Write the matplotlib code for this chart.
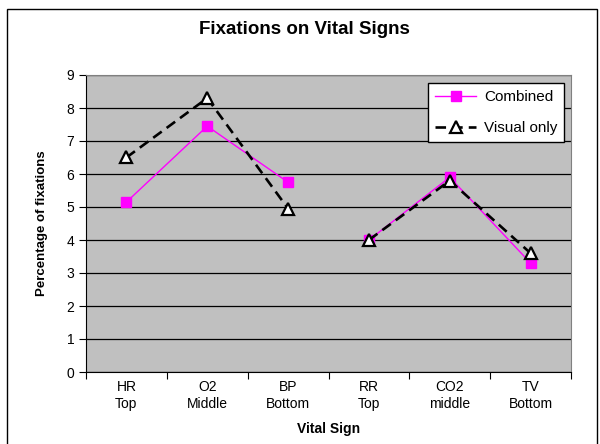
import numpy as np
import matplotlib
matplotlib.use('Agg')
import matplotlib.pyplot as plt
from matplotlib.patches import Rectangle

plt.rcParams['font.family'] = ['Liberation Sans', 'DejaVu Sans']

# ── Data ──
categories = ['HR\nTop', 'O2\nMiddle', 'BP\nBottom', 'RR\nTop', 'CO2\nmiddle', 'TV\nBottom']
combined = [5.15, 7.45, 5.75, 4.0, 5.9, 3.3]
visual_only = [6.5, 8.3, 4.95, 4.0, 5.8, 3.6]
groups = [(0, 3), (3, 6)]   # lines are broken between the two screen groups

fig = plt.figure(figsize=(6.0, 4.44), dpi=100, facecolor='white')
fig.patches.append(Rectangle((7/600, -0.05), 590/600, 1 - 9/444 + 0.05,
                             transform=fig.transFigure, fill=False,
                             edgecolor='black', linewidth=1.0))

ax = fig.add_axes([86/600, 1 - 372/444, 485/600, 297/444])
ax.set_facecolor('#C0C0C0')

x = np.arange(len(categories))
for i, (a, b) in enumerate(groups):
    ax.plot(x[a:b], combined[a:b], color='#FF00FF', linewidth=1.0,
            marker='s', markersize=7, markerfacecolor='#FF00FF',
            markeredgecolor='#FF00FF', zorder=3,
            label='Combined' if i == 0 else None)
for i, (a, b) in enumerate(groups):
    ax.plot(x[a:b], visual_only[a:b], color='black', linewidth=1.9,
            dashes=(4, 2.3), marker='^', markersize=8,
            markerfacecolor='white', markeredgecolor='black',
            markeredgewidth=1.6, zorder=4,
            label='Visual only' if i == 0 else None)

ax.set_xlim(-0.5, len(categories) - 0.5)
ax.set_ylim(0, 9)
ax.set_yticks(range(0, 10))
ax.yaxis.grid(True, color='black', linewidth=0.9)
ax.set_axisbelow(True)

ax.set_xticks(np.arange(-0.5, len(categories)), labels=[''] * (len(categories) + 1))
ax.set_xticks(x, labels=categories, minor=True)
ax.tick_params(axis='x', which='minor', length=0, labelsize=10, pad=6)
ax.tick_params(axis='x', which='major', length=5, direction='out')
ax.tick_params(axis='y', length=5, direction='out', labelsize=10)

for s in ['top', 'right']:
    ax.spines[s].set_color('#808080')
for s in ['left', 'bottom']:
    ax.spines[s].set_color('black')

ax.set_xlabel('Vital Sign', fontsize=10, fontweight='bold', labelpad=8)
ax.set_ylabel('Percentage of fixations', fontsize=9.5, fontweight='bold', labelpad=13)
fig.text(0.5 + 4/600, 1 - 30/444, 'Fixations on Vital Signs', ha='center', va='center',
         fontsize=13.5, fontweight='bold')

leg = ax.legend(loc='upper right', bbox_to_anchor=(0.986, 0.973), fontsize=11,
                fancybox=False, framealpha=1, edgecolor='black',
                handlelength=2.7, handletextpad=0.5, borderpad=0.45,
                labelspacing=1.15, borderaxespad=0)
leg.get_frame().set_linewidth(1.0)

fig.savefig('out.png', dpi=100, facecolor='white')
